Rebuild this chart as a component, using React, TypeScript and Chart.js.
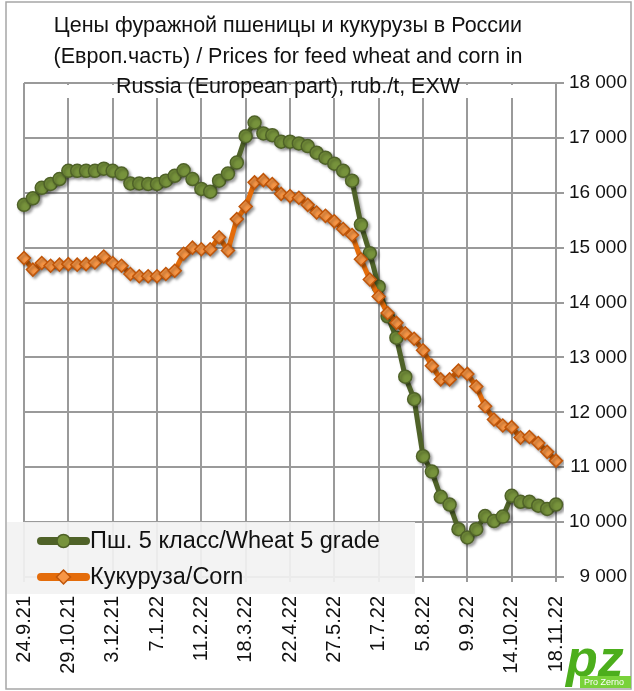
import React, { useEffect, useRef } from "react";
import { Chart, registerables } from "chart.js";

Chart.register(...registerables);

const dates: string[] = [
  "24.9.21", "1.10.21", "8.10.21", "15.10.21", "22.10.21", "29.10.21", "5.11.21", "12.11.21", "19.11.21", "26.11.21",
  "3.12.21", "10.12.21", "17.12.21", "24.12.21", "31.12.21", "7.1.22", "14.1.22", "21.1.22", "28.1.22", "4.2.22",
  "11.2.22", "18.2.22", "25.2.22", "4.3.22", "11.3.22", "18.3.22", "25.3.22", "1.4.22", "8.4.22", "15.4.22",
  "22.4.22", "29.4.22", "6.5.22", "13.5.22", "20.5.22", "27.5.22", "3.6.22", "10.6.22", "17.6.22", "24.6.22",
  "1.7.22", "8.7.22", "15.7.22", "22.7.22", "29.7.22", "5.8.22", "12.8.22", "19.8.22", "26.8.22", "2.9.22",
  "9.9.22", "16.9.22", "23.9.22", "30.9.22", "7.10.22", "14.10.22", "21.10.22", "28.10.22", "4.11.22", "11.11.22",
  "18.11.22",
];

const wheat: number[] = [
  15780, 15900, 16090, 16160, 16250, 16400, 16400, 16400, 16400, 16440,
  16400, 16350, 16170, 16170, 16160, 16160, 16220, 16310, 16410, 16250,
  16070, 16020, 16220, 16350, 16550, 17030, 17280, 17080, 17050, 16930,
  16930, 16900, 16850, 16730, 16640, 16530, 16400, 16220, 15420, 14900,
  14290, 13750, 13360, 12650, 12240, 11200, 10920, 10460, 10320, 9870,
  9720, 9870, 10110, 10020, 10100, 10480, 10370, 10370, 10300, 10240,
  10320,
];

const corn: number[] = [
  14810, 14600, 14720, 14670, 14690, 14700, 14690, 14700, 14730, 14840,
  14720, 14670, 14520, 14480, 14480, 14480, 14520, 14580, 14890, 15000,
  14970, 14970, 15190, 14950, 15520, 15750, 16190, 16230, 16160, 15980,
  15940, 15910, 15780, 15640, 15580, 15480, 15340, 15230, 14790, 14420,
  14110, 13810, 13630, 13440, 13340, 13130, 12850, 12600, 12600, 12760,
  12700, 12470, 12110, 11870, 11760, 11730, 11540, 11550, 11440, 11280,
  11120,
];

const titleLines: string[] = [
  "Цены фуражной пшеницы и кукурузы в России",
  "(Европ.часть) / Prices for feed wheat and corn in",
  "Russia (European part), rub./t, EXW",
];

const wheatLabel = "Пш. 5 класс/Wheat 5 grade";
const cornLabel = "Кукуруза/Corn";

const FONT = "'Liberation Sans', Arial, sans-serif";
const WHEAT_LINE = "#4f6228";
const WHEAT_FILL = "#77933c";
const CORN_LINE = "#e46c0a";
const CORN_FILL = "#f79646";
const CORN_EDGE = "#c0560a";
const GRID = "#9a9a9a";

const fmt = (v: number) => String(v).replace(/\B(?=(\d{3})+(?!\d))/g, " ");

const decorPlugin = {
  id: "decor",
  beforeDraw(chart: any) {
    const { ctx, width, height } = chart;
    ctx.save();
    ctx.fillStyle = "#ffffff";
    ctx.fillRect(0, 0, width, height);
    ctx.restore();
  },
  beforeDatasetsDraw(chart: any) {
    const { ctx } = chart;
    ctx.save();
    ctx.fillStyle = "#ffffff";
    ctx.fillRect(48, 85, 482, 13);
    ctx.restore();
    ctx.save();
    ctx.shadowColor = "rgba(0,0,0,0.35)";
    ctx.shadowBlur = 3;
    ctx.shadowOffsetX = 2;
    ctx.shadowOffsetY = 2;
  },
  afterDatasetsDraw(chart: any) {
    const { ctx } = chart;
    ctx.restore();
    ctx.save();
    // legend
    ctx.fillStyle = "rgba(242,242,242,0.92)";
    ctx.fillRect(7, 522, 408, 72);
    const rows = [
      { y: 541, label: wheatLabel, line: WHEAT_LINE, fill: WHEAT_FILL, edge: WHEAT_LINE, diamond: false },
      { y: 577, label: cornLabel, line: CORN_LINE, fill: CORN_FILL, edge: CORN_EDGE, diamond: true },
    ];
    rows.forEach((r) => {
      ctx.strokeStyle = r.line;
      ctx.lineWidth = 8;
      ctx.lineCap = "round";
      ctx.beginPath();
      ctx.moveTo(41, r.y);
      ctx.lineTo(86, r.y);
      ctx.stroke();
      ctx.fillStyle = r.fill;
      ctx.strokeStyle = r.edge;
      ctx.lineWidth = 1.5;
      ctx.beginPath();
      if (r.diamond) {
        ctx.moveTo(63.5, r.y - 7);
        ctx.lineTo(70.5, r.y);
        ctx.lineTo(63.5, r.y + 7);
        ctx.lineTo(56.5, r.y);
        ctx.closePath();
      } else {
        ctx.arc(63.5, r.y, 6.5, 0, Math.PI * 2);
      }
      ctx.fill();
      ctx.stroke();
      ctx.fillStyle = "#111";
      ctx.font = `23.5px ${FONT}`;
      ctx.textBaseline = "middle";
      ctx.textAlign = "left";
      ctx.fillText(r.label, 90, r.y + 1);
    });
    ctx.restore();
  },
  afterDraw(chart: any) {
    const { ctx } = chart;
    ctx.save();
    ctx.fillStyle = "#111";
    ctx.font = `21.5px ${FONT}`;
    ctx.textAlign = "center";
    ctx.textBaseline = "middle";
    const ys = [26, 57, 87];
    titleLines.forEach((t, i) => ctx.fillText(t, 288, ys[i]));
    ctx.strokeStyle = "#a6a6a6";
    ctx.lineWidth = 1.5;
    ctx.strokeRect(6, 2, 625, 687);
    // logo
    ctx.fillStyle = "#4cae1c";
    ctx.font = `bold italic 52px ${FONT}`;
    ctx.textAlign = "left";
    ctx.textBaseline = "alphabetic";
    ctx.fillText("pz", 566, 676);
    ctx.fillStyle = "#79d23a";
    ctx.fillRect(580, 676, 51, 12);
    ctx.fillStyle = "#ffffff";
    ctx.font = `9px ${FONT}`;
    ctx.fillText("Pro Zerno", 584, 685);
    ctx.restore();
  },
};

export default function App() {
  const ref = useRef<HTMLCanvasElement | null>(null);
  useEffect(() => {
    document.body.style.margin = "0";
    if (!ref.current) return;
    const chart = new Chart(ref.current, {
      type: "line",
      data: {
        labels: dates,
        datasets: [
          {
            label: wheatLabel,
            data: wheat,
            order: 1,
            borderColor: WHEAT_LINE,
            borderWidth: 5,
            pointRadius: 6.5,
            pointBackgroundColor: WHEAT_FILL,
            pointBorderColor: WHEAT_LINE,
            pointBorderWidth: 1.5,
            pointStyle: "circle",
            tension: 0,
          },
          {
            label: cornLabel,
            data: corn,
            order: 0,
            borderColor: CORN_LINE,
            borderWidth: 5,
            pointRadius: 6.5,
            pointBackgroundColor: CORN_FILL,
            pointBorderColor: CORN_EDGE,
            pointBorderWidth: 1.5,
            pointStyle: "rectRot",
            tension: 0,
          },
        ],
      },
      options: {
        responsive: false,
        animation: false,
        events: [],
        layout: { padding: { left: 24, right: 7, top: 83, bottom: 0 } },
        plugins: {
          legend: { display: false },
          title: { display: false },
          tooltip: { enabled: false },
        },
        scales: {
          x: {
            type: "category",
            offset: false,
            border: { display: false },
            afterFit: (s: any) => {
              s.height = 114;
            },
            grid: {
              color: (c: any) => (c.index % 5 === 0 ? GRID : "rgba(0,0,0,0)"),
              lineWidth: 2,
              tickLength: 5,
            },
            ticks: {
              autoSkip: false,
              maxRotation: 90,
              minRotation: 90,
              padding: 14,
              color: "#111",
              font: { family: FONT, size: 20 },
              callback: (_v: any, i: number) => (i % 5 === 0 ? dates[i] : ""),
            },
          },
          y: {
            position: "right",
            min: 9000,
            max: 18000,
            border: { display: false },
            afterFit: (s: any) => {
              s.width = 71;
            },
            grid: { color: GRID, lineWidth: 2, tickLength: 8 },
            ticks: {
              stepSize: 1000,
              padding: 4,
              crossAlign: "far",
              color: "#111",
              font: { family: FONT, size: 19 },
              callback: (v: any) => fmt(Number(v)),
            },
          },
        },
      },
      plugins: [decorPlugin],
    });
    return () => chart.destroy();
  }, []);
  return (
    <div style={{ width: 634, height: 691 }}>
      <canvas ref={ref} width={634} height={691} style={{ display: "block" }} />
    </div>
  );
}
